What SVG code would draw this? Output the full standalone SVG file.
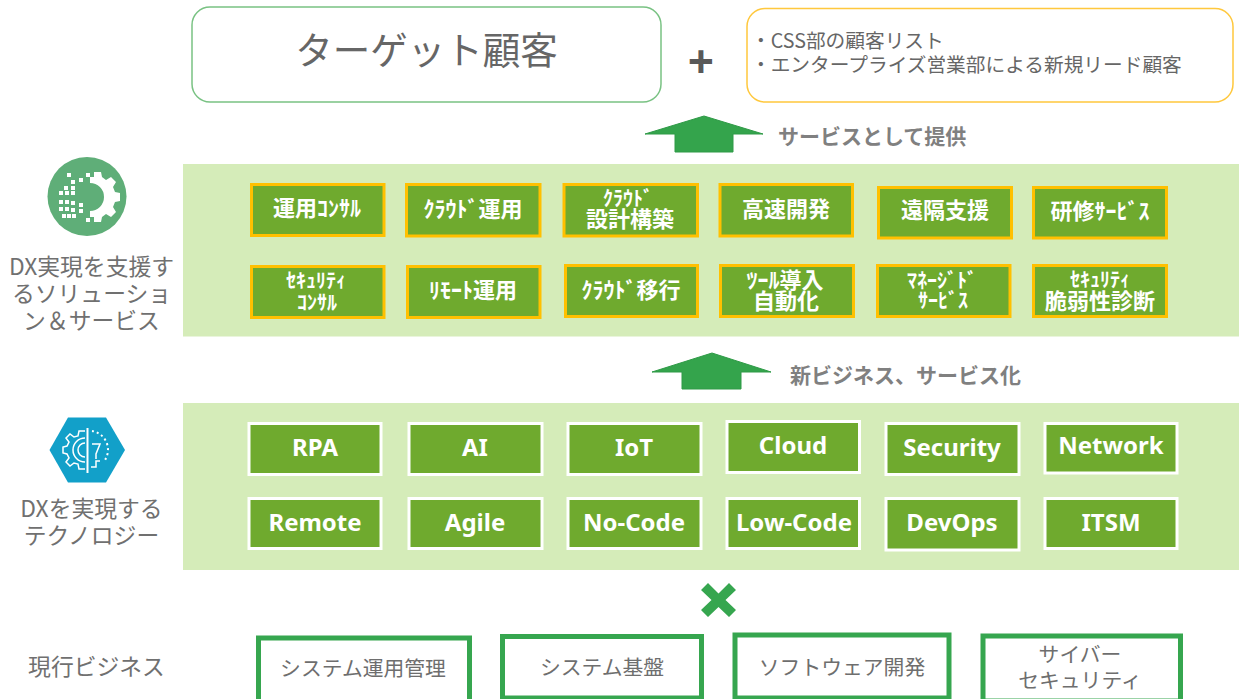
<svg xmlns="http://www.w3.org/2000/svg" width="1239" height="699" viewBox="0 0 1239 699">
<style>
text{font-family:"Noto Sans CJK JP","Noto Sans",sans-serif;}
.c{text-anchor:middle;}
.lab{font-size:22.800px;fill:#707070;text-anchor:middle;}
.bot{font-size:20.800px;fill:#6e6e6e;text-anchor:middle;}
.note{font-size:19.700px;fill:#666;}
.cap{font-size:21px;font-weight:700;fill:#808080;}
.panel{fill:#d5ecb9;}
.o rect{fill:#6faa2e;stroke:#ffc000;stroke-width:3;}
.o text{fill:#fff;font-weight:700;font-size:22px;text-anchor:middle;}
.o .s{font-size:20px;}
.w rect{fill:#6faa2e;stroke:#fff;stroke-width:3;}
.w text{fill:#fff;font-family:"Noto Sans","Noto Sans CJK JP",sans-serif;font-weight:700;font-size:24px;text-anchor:middle;}
.b rect{fill:#fff;stroke:#36a64f;stroke-width:5;}
.arrow{fill:#34a44c;stroke:#2f9a47;stroke-width:1;}
</style>

<g id="panels">
<rect class="panel" x="183" y="164" width="1056" height="172.500"/>
<rect class="panel" x="183" y="403" width="1056" height="167"/>
</g>

<g id="connectors">
<path class="arrow" d="M704,116 L763,134 L733,134 L733,152 L675,152 L675,134 L645,134 Z"/>
<path class="arrow" d="M712,353 L771,372 L741,372 L741,389 L682,389 L682,372 L652,372 Z"/>
</g>

<g id="target"><rect x="192" y="7" width="469" height="95" rx="18" fill="#fff" stroke="#79c283" stroke-width="1.500"/>
<text class="c" x="426.500" y="64" font-size="37.500" fill="#666">ターゲット顧客</text></g>
<g id="plus"><text class="c" x="701" y="78" font-size="46" font-weight="700" fill="#595959" style="font-family:'Noto Sans',sans-serif">+</text></g>
<g id="leads"><rect x="747" y="8.500" width="486" height="93.500" rx="18" fill="#fff" stroke="#ffc83d" stroke-width="1.500"/>
<text class="note" x="751" y="48">・CSS部の顧客リスト</text>
<text class="note" x="751" y="72">・エンタープライズ営業部による新規リード顧客</text></g>

<g id="cap1"><text class="cap" x="778" y="144">サービスとして提供</text></g>
<g id="cap2"><text class="cap" x="790" y="383">新ビジネス、サービス化</text></g>

<g id="icon-solution">
<circle cx="87" cy="196.500" r="39.500" fill="#5fae78"/>
<path d="M90,177 L94,177 L94,172 L101,172 L102,177 L106,180 L111,177 L116,182 L113,187 L115,192 L120,193 L120,201 L115,202 L113,207 L116,212 L111,217 L106,214 L102,217 L101,222 L94,222 L94,217 L90,217 L90,211 A14,14 0 0 0 90,183 Z" fill="#fff"/>
<g fill="#fff"><rect x="67" y="173" width="4" height="4"/><rect x="86" y="173" width="4" height="4"/><rect x="71" y="180" width="4" height="4"/><rect x="79" y="178" width="4" height="4"/><rect x="64" y="186" width="4" height="4"/><rect x="71" y="186" width="4" height="4"/><rect x="59" y="191" width="4" height="4"/><rect x="65" y="191" width="4" height="4"/><rect x="71" y="191" width="4" height="4"/><rect x="59" y="200" width="4" height="4"/><rect x="65" y="200" width="4" height="4"/><rect x="71" y="201" width="4" height="4"/><rect x="59" y="207" width="4" height="4"/><rect x="65" y="207" width="4" height="4"/><rect x="71" y="208" width="4" height="4"/><rect x="79" y="203" width="4" height="4"/><rect x="79" y="209" width="4" height="4"/><rect x="67" y="214" width="4" height="4"/><rect x="72" y="214" width="4" height="4"/><rect x="86" y="218" width="4" height="4"/><rect x="62" y="214" width="4" height="4"/></g>
</g>
<g id="label-solution">
<text class="lab" x="91.500" y="275">DX実現を支援す</text>
<text class="lab" x="91.500" y="302">るソリューショ</text>
<text class="lab" x="91.500" y="329">ン＆サービス</text>
</g>

<g id="icon-tech">
<path d="M49.500,450 L68,417.500 L106,417.500 L125,450 L106,482.500 L68,482.500 Z" fill="#12a0c9"/>
<g fill="none" stroke="#fff" stroke-width="1.500">
<path d="M87.500,428 V473" stroke-width="2"/>
<path d="M85,431 L79,431 L78,436 L74,437 L70,434 L66,438 L69,442 L67,446 L63,447 L63,453 L67,454 L69,458 L66,462 L70,466 L74,463 L78,464 L79,469 L85,469"/>
<path d="M85,438 A12,12 0 0 0 85,462 M85,443 A7,7 0 0 0 85,457"/>
<path d="M92,431 A19,19 0 0 1 105,460" stroke-dasharray="2 3" stroke-width="2"/>
<path d="M92,444 H100 L96,454 V459 M91,467 H96 V461 H100"/>
</g>
</g>
<g id="label-tech">
<text class="lab" x="91.500" y="517">DXを実現する</text>
<text class="lab" x="91.500" y="544">テクノロジー</text>
</g>

<g id="label-current"><text class="lab" x="96.500" y="675">現行ビジネス</text></g>

<g id="s1" class="o"><rect x="251.500" y="184.500" width="132.500" height="51"/><text x="317" y="216">運用ｺﾝｻﾙ</text></g>
<g id="s2" class="o"><rect x="406.500" y="184.500" width="133.500" height="51.500"/><text x="473" y="217">ｸﾗｳﾄﾞ運用</text></g>
<g id="s3" class="o"><rect x="564" y="184.500" width="133.500" height="51.500"/><text x="630"><tspan class="s" x="628" y="206">ｸﾗｳﾄﾞ</tspan><tspan x="630" y="227">設計構築</tspan></text></g>
<g id="s4" class="o"><rect x="720" y="184.500" width="132.500" height="51.500"/><text x="786" y="217">高速開発</text></g>
<g id="s5" class="o"><rect x="878.500" y="187.500" width="133" height="50.500"/><text x="945" y="218">遠隔支援</text></g>
<g id="s6" class="o"><rect x="1033.500" y="187.500" width="133" height="50.500"/><text x="1100" y="219">研修ｻｰﾋﾞｽ</text></g>
<g id="s7" class="o"><rect x="251.500" y="266.500" width="132.500" height="51"/><text x="316" class="s"><tspan x="316" y="288">ｾｷｭﾘﾃｨ</tspan><tspan x="317" y="310">ｺﾝｻﾙ</tspan></text></g>
<g id="s8" class="o"><rect x="407.500" y="266.500" width="132.500" height="51"/><text x="473" y="298">ﾘﾓｰﾄ運用</text></g>
<g id="s9" class="o"><rect x="565.500" y="265.500" width="132" height="51"/><text x="631" y="298">ｸﾗｳﾄﾞ移行</text></g>
<g id="s10" class="o"><rect x="720.500" y="265.500" width="133" height="51"/><text x="785"><tspan x="785" y="288">ﾂｰﾙ導入</tspan><tspan x="786" y="309">自動化</tspan></text></g>
<g id="s11" class="o"><rect x="877.500" y="265.500" width="132.500" height="51"/><text x="942" class="s"><tspan x="942" y="288">ﾏﾈｰｼﾞﾄﾞ</tspan><tspan x="943" y="308">ｻｰﾋﾞｽ</tspan></text></g>
<g id="s12" class="o"><rect x="1033.500" y="265.500" width="133" height="51"/><text x="1100"><tspan class="s" x="1100" y="287">ｾｷｭﾘﾃｨ</tspan><tspan x="1100" y="309">脆弱性診断</tspan></text></g>

<g id="t1" class="w"><rect x="249" y="423.500" width="132" height="51"/><text x="315" y="456">RPA</text></g>
<g id="t2" class="w"><rect x="409" y="423.500" width="133" height="51"/><text x="475" y="456">AI</text></g>
<g id="t3" class="w"><rect x="568" y="423.500" width="133" height="51"/><text x="634" y="456">IoT</text></g>
<g id="t4" class="w"><rect x="727" y="421.500" width="132.500" height="51"/><text x="793" y="454">Cloud</text></g>
<g id="t5" class="w"><rect x="886" y="423.500" width="133" height="51"/><text x="952" y="456">Security</text></g>
<g id="t6" class="w"><rect x="1045" y="423.500" width="132" height="49.500"/><text x="1111" y="454">Network</text></g>
<g id="t7" class="w"><rect x="249" y="498.500" width="132" height="50"/><text x="315" y="531">Remote</text></g>
<g id="t8" class="w"><rect x="409" y="498.500" width="133" height="50"/><text x="475" y="531">Agile</text></g>
<g id="t9" class="w"><rect x="568" y="498.500" width="133" height="50"/><text x="634" y="531">No-Code</text></g>
<g id="t10" class="w"><rect x="727" y="498.500" width="132.500" height="50"/><text x="794" y="531">Low-Code</text></g>
<g id="t11" class="w"><rect x="886" y="498.500" width="133" height="51.500"/><text x="952" y="531">DevOps</text></g>
<g id="t12" class="w"><rect x="1045" y="498.500" width="132" height="50"/><text x="1111" y="531">ITSM</text></g>

<g id="times"><path d="M708,583 L718.500,593.500 L729,583 L736,590 L725.500,600 L736,610 L729,617 L718.500,607 L708,617 L701,610 L711.500,600 L701,590 Z" fill="#36a64f"/></g>

<g id="b1" class="b"><rect x="258.500" y="638" width="211" height="70"/><text class="bot" x="363" y="676">システム運用管理</text></g>
<g id="b2" class="b"><rect x="502.500" y="636.500" width="199" height="61.500"/><text class="bot" x="602" y="675">システム基盤</text></g>
<g id="b3" class="b"><rect x="735" y="635" width="214" height="63"/><text class="bot" x="842" y="675">ソフトウェア開発</text></g>
<g id="b4" class="b"><rect x="983" y="636" width="197.500" height="65"/><text class="bot" x="1080"><tspan x="1080" y="662">サイバー</tspan><tspan x="1080" y="688">セキュリティ</tspan></text></g>
</svg>
